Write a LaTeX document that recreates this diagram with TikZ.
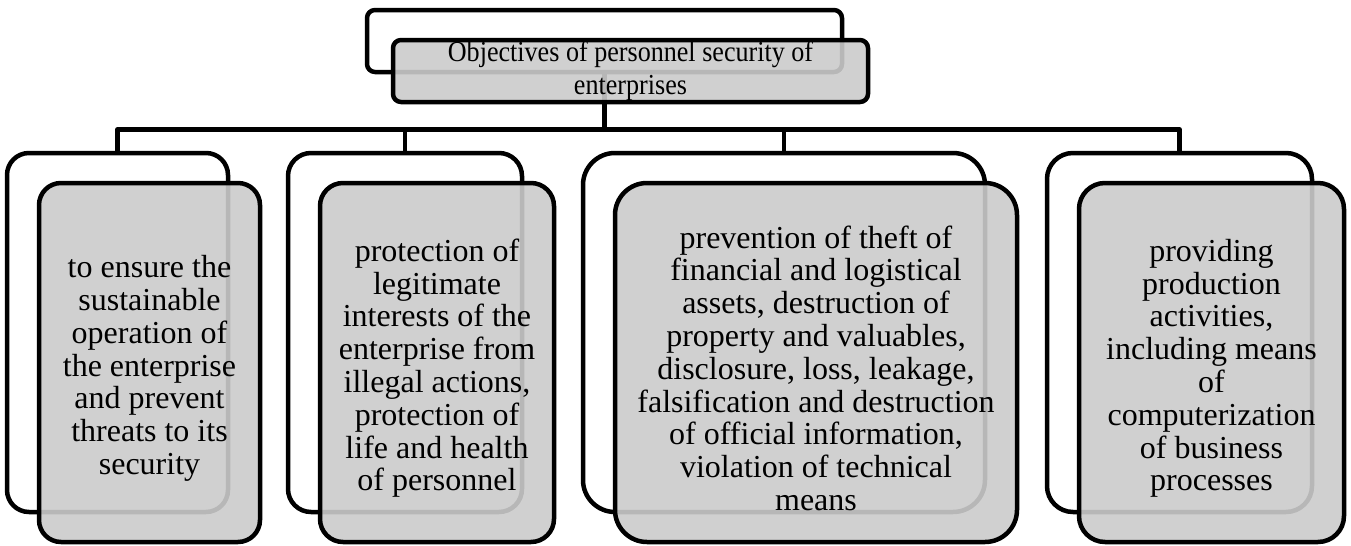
\documentclass[tikz,border=0pt]{standalone}
\usepackage{fontspec}
\setmainfont{Liberation Serif}
\newfontfamily\narrowfont[FakeStretch=0.9]{Liberation Serif}
\definecolor{boxgray}{RGB}{203,203,203}
\begin{document}
\begin{tikzpicture}[x=0.5pt, y=-0.5pt, line join=round, line cap=round,
	backbox/.style={draw, line width=2.25pt, fill=white, inner sep=0pt},
	frontbox/.style={draw, line width=2.25pt, fill=boxgray, fill opacity=0.9, text opacity=1, inner sep=0pt, align=center, font=\fontsize{16}{16.4}\selectfont},
	link/.style={line width=2.25pt}]
	\useasboundingbox (0,0) rectangle (1351,546);
	% back boxes
	\node[backbox, minimum width=237.5pt, minimum height=31pt, rounded corners=4pt] (tb) at (604.5,41) {};
	\foreach \i/\cx/\w/\r in {1/117.5/110.5/11, 2/405/117/11.5, 3/784/201/16, 4/1179.5/132.5/13}
		\node[backbox, minimum width=\w pt, minimum height=179.5pt, rounded corners=\r pt] (b\i) at (\cx,332.5) {};
	% connectors
	\coordinate (bus) at ([yshift=-27.5pt]tb.south);
	\draw[link] (tb.south) -- (bus);
	\draw[link] (b1.north) |- (bus) -| (b4.north);
	\foreach \i in {2,3} \draw[link] (b\i.north) -- (b\i.north |- bus);
	% front boxes
	\node[frontbox, minimum width=237.5pt, minimum height=31pt, rounded corners=4pt, font=\narrowfont\fontsize{14.5}{16.5}\selectfont] (tf) at ([xshift=13pt,yshift=-15pt]tb.center) {Objectives of personnel security of\\enterprises};
	\foreach \i/\w/\r/\txt in {
		1/110.5/11/{to ensure the\\sustainable\\operation of\\the enterprise\\and prevent\\threats to its\\security},
		2/117/11.5/{protection of\\legitimate\\interests of the\\enterprise from\\illegal actions,\\protection of\\life and health\\of personnel},
		3/201/16/{prevention of theft of\\financial and logistical\\assets, destruction of\\property and valuables,\\disclosure, loss, leakage,\\falsification and destruction\\of official information,\\violation of technical\\means},
		4/132.5/13/{providing\\production\\activities,\\including means\\of\\computerization\\of business\\processes}}
		\node[frontbox, minimum width=\w pt, minimum height=179.5pt, rounded corners=\r pt] (f\i) at ([xshift=16pt,yshift=-15pt]b\i.center) {\rule{0pt}{17pt}\txt};
\end{tikzpicture}
\end{document}
